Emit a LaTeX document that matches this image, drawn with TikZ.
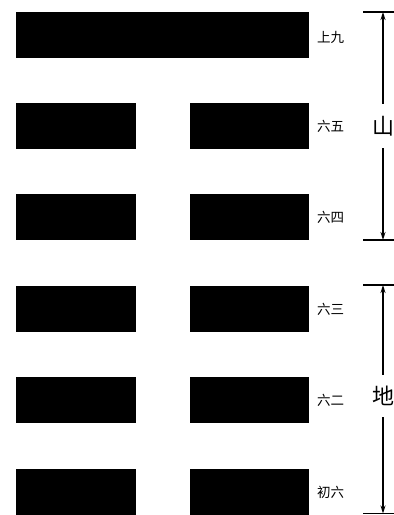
\documentclass[tikz,border=0pt]{standalone}
\usepackage{fontspec}
\newfontfamily\cjkfont{Noto Sans CJK SC}
\usetikzlibrary{arrows.meta,positioning}

\begin{document}
\begin{tikzpicture}[x=1pt,y=-1pt,
    yangbar/.style={fill=black,inner sep=0pt,minimum width=293pt,minimum height=46pt,anchor=west},
    yinbar/.style={fill=black,inner sep=0pt,minimum width=120pt,minimum height=46pt,anchor=west},
    yaoname/.style={font=\cjkfont\fontsize{13.5}{15}\selectfont,anchor=west,inner sep=0pt},
    guaname/.style={font=\cjkfont\fontsize{22}{24}\selectfont,inner sep=0pt,minimum width=20pt},
    span/.style={line width=1.3pt,-{Stealth[length=8pt,width=5pt]}},
    endbar/.style={line width=1.3pt}]
  \useasboundingbox (0,0) rectangle (394,515);

  % top line is solid
  \node[yangbar] (y6) at (16,35) {};
  \node[yaoname] (n6) at (317,37) {上九};

  % broken lines
  \foreach \i/\yy/\lbl in {5/126/六五,4/217/六四,3/309/六三,2/400/六二,1/492/初六}{
    \node[yinbar] (y\i l) at (16,\yy) {};
    \node[yinbar,minimum width=119pt] (y\i r) at (190,\yy) {};
    \node[yaoname] (n\i) at (317,\yy) {\lbl};
  }

  % upper trigram
  \coordinate (shantop) at (383,12);
  \coordinate (shanbot) at (383,240);
  \node[guaname,minimum height=44pt] (shan) at (383,126) {山};
  \draw[endbar] (363,12) -- (394,12);
  \draw[endbar] (363,240) -- (394,240);
  \draw[span] (shan.north) -- (shantop);
  \draw[span] (shan.south) -- (shanbot);

  % lower trigram
  \coordinate (ditop) at (383,285);
  \coordinate (dibot) at (383,513.5);
  \node[guaname,minimum height=42pt] (di) at (383,396) {地};
  \draw[endbar] (363,285) -- (394,285);
  \draw[endbar] (363,513.5) -- (394,513.5);
  \draw[span] (di.north) -- (ditop);
  \draw[span] (di.south) -- (dibot);
\end{tikzpicture}
\end{document}
